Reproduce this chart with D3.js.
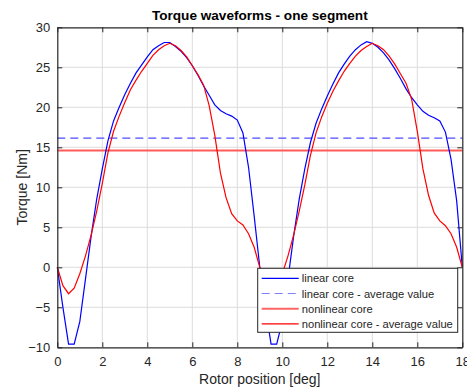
<!DOCTYPE html>
<html>
<head>
<meta charset="utf-8">
<script src="https://cdn.jsdelivr.net/npm/d3@7"></script>
<style>
  body { margin: 0; background: #fff; }
  svg { font-family: "Liberation Sans", Arial, sans-serif; }
</style>
</head>
<body>
<svg id="chart" width="467" height="390"></svg>
<script>
// rotor position [deg], 0.25 deg steps
var rotorPos = d3.range(0, 18.001, 0.25);

var linearCore = [
  0, -5.0, -9.6, -9.6, -6.8, -1.5, 3.8, 8.5, 12.3, 15.8, 18.3, 20.0, 21.6,
  23.0, 24.3, 25.3, 26.3, 27.2, 27.7, 28.1, 28.1, 27.6, 27.0, 26.2, 25.2,
  24.0, 22.7, 21.5, 20.3, 19.6, 19.2, 18.9, 18.4, 16.8, 12.5, 6.4,
  0, -5.0, -9.6, -9.6, -6.8, -1.5, 3.8, 8.5, 12.3, 15.6, 18.0, 19.8, 21.4,
  22.9, 24.3, 25.4, 26.4, 27.2, 27.8, 28.2, 28.0, 27.5, 26.8, 25.9, 24.8,
  23.6, 22.3, 21.2, 20.3, 19.5, 19.0, 18.7, 18.3, 16.9, 13.5, 8.3, 0
];

var nonlinearCore = [
  0, -2.3, -3.3, -2.6, -0.8, 1.4, 4.0, 7.0, 10.5, 14.3, 17.0, 18.9, 20.6,
  22.2, 23.4, 24.5, 25.5, 26.5, 27.2, 27.7, 28.0, 27.7, 27.1, 26.3, 25.2,
  24.1, 22.8, 20.2, 16.5, 11.8, 8.7, 6.7, 5.8, 5.3, 4.2, 2.5,
  0, -2.3, -3.3, -2.6, -0.8, 1.4, 4.0, 7.0, 10.3, 14.0, 16.8, 18.8, 20.5,
  22.0, 23.3, 24.5, 25.5, 26.4, 27.1, 27.6, 28.0, 27.7, 27.2, 26.4, 25.4,
  24.2, 23.0, 21.0, 17.0, 12.3, 9.0, 6.8, 5.8, 5.2, 4.2, 2.5, 0
];

var linearAvg = 16.15;
var nonlinearAvg = 14.6;

var xTicks = [0, 2, 4, 6, 8, 10, 12, 14, 16, 18];
var yTicks = [-10, -5, 0, 5, 10, 15, 20, 25, 30];

var legendLabels = [
  'linear core',
  'linear core - average value',
  'nonlinear core',
  'nonlinear core - average value'
];

(function () {
  'use strict';

  var svg = d3.select('#chart');
  var margin = { left: 57.3, top: 27.3, width: 405, height: 320 };
  var ink = '#262626';

  var x = d3.scaleLinear().domain([0, 18]).range([margin.left, margin.left + margin.width]);
  var y = d3.scaleLinear().domain([-10, 30]).range([margin.top + margin.height, margin.top]);

  svg.append('rect')
    .attr('x', margin.left).attr('y', margin.top)
    .attr('width', margin.width).attr('height', margin.height)
    .attr('fill', '#fff');

  // grid
  var grid = svg.append('g').attr('class', 'grid');
  grid.selectAll('line.gx').data(xTicks.slice(1, -1)).enter().append('line')
    .attr('x1', x).attr('x2', x)
    .attr('y1', y(-10)).attr('y2', y(30))
    .attr('stroke', '#dcdcdc').attr('stroke-width', 1);
  grid.selectAll('line.gy').data(yTicks.slice(1, -1)).enter().append('line')
    .attr('x1', x(0)).attr('x2', x(18))
    .attr('y1', y).attr('y2', y)
    .attr('stroke', '#dcdcdc').attr('stroke-width', 1);

  var plot = svg.append('g');
  var line = d3.line()
    .x(function (d, i) { return x(rotorPos[i]); })
    .y(function (d) { return y(d); });

  // averages
  plot.append('line')
    .attr('x1', x(0)).attr('x2', x(18))
    .attr('y1', y(linearAvg)).attr('y2', y(linearAvg))
    .attr('stroke', '#4d4dff').attr('stroke-width', 1.2)
    .attr('stroke-dasharray', '8,5');
  plot.append('line')
    .attr('x1', x(0)).attr('x2', x(18))
    .attr('y1', y(nonlinearAvg)).attr('y2', y(nonlinearAvg))
    .attr('stroke', '#ff5a5a').attr('stroke-width', 2);

  plot.append('path').datum(linearCore)
    .attr('d', line).attr('fill', 'none')
    .attr('stroke', '#0000ff').attr('stroke-width', 1.2);
  plot.append('path').datum(nonlinearCore)
    .attr('d', line).attr('fill', 'none')
    .attr('stroke', '#ff0000').attr('stroke-width', 1.2);

  // axes (box with inward ticks)
  var bottom = d3.axisBottom(x).tickValues(xTicks).tickSizeInner(-5).tickSizeOuter(0).tickPadding(9);
  var top = d3.axisTop(x).tickValues(xTicks).tickSizeInner(-5).tickSizeOuter(0).tickFormat('');
  var left = d3.axisLeft(y).tickValues(yTicks).tickSizeInner(-5).tickSizeOuter(0).tickPadding(7);
  var right = d3.axisRight(y).tickValues(yTicks).tickSizeInner(-5).tickSizeOuter(0).tickFormat('');

  var gb = svg.append('g').attr('transform', 'translate(0,' + y(-10) + ')').call(bottom);
  var gt = svg.append('g').attr('transform', 'translate(0,' + y(30) + ')').call(top);
  var gl = svg.append('g').attr('transform', 'translate(' + x(0) + ',0)').call(left);
  var gr = svg.append('g').attr('transform', 'translate(' + x(18) + ',0)').call(right);

  [gb, gt, gl, gr].forEach(function (g) {
    g.select('.domain').attr('stroke', ink).attr('stroke-width', 1.2);
    g.selectAll('.tick line').attr('stroke', ink);
    g.selectAll('.tick text').attr('fill', ink).style('font-size', '13px')
      .style('font-family', '"Liberation Sans", Arial, sans-serif');
  });

  // labels
  svg.append('text')
    .attr('x', x(9)).attr('y', 20)
    .attr('text-anchor', 'middle')
    .style('font-size', '13.6px').style('font-weight', 'bold')
    .attr('fill', '#000')
    .text('Torque waveforms - one segment');

  svg.append('text')
    .attr('x', x(9)).attr('y', 384)
    .attr('text-anchor', 'middle')
    .style('font-size', '14px')
    .attr('fill', ink)
    .text('Rotor position [deg]');

  svg.append('text')
    .attr('transform', 'translate(27,' + y(10) + ') rotate(-90)')
    .attr('text-anchor', 'middle')
    .style('font-size', '14px')
    .attr('fill', ink)
    .text('Torque [Nm]');

  // legend
  var legend = svg.append('g').attr('transform', 'translate(257.7,268.3)');
  legend.append('rect')
    .attr('width', 200).attr('height', 64)
    .attr('fill', '#fff').attr('stroke', ink).attr('stroke-width', 1);

  var legendStyles = [
    { color: '#0000ff', width: 1.2, dash: null },
    { color: '#7f7fff', width: 1.2, dash: '8,5' },
    { color: '#ff6464', width: 2, dash: null },
    { color: '#ff0000', width: 1.2, dash: null }
  ];

  var entry = legend.selectAll('g.entry').data(legendLabels).enter().append('g')
    .attr('transform', function (d, i) { return 'translate(0,' + (10 + i * 15.2) + ')'; });
  entry.append('line')
    .attr('x1', 4).attr('x2', 41)
    .attr('stroke', function (d, i) { return legendStyles[i].color; })
    .attr('stroke-width', function (d, i) { return legendStyles[i].width; })
    .attr('stroke-dasharray', function (d, i) { return legendStyles[i].dash; });
  entry.append('text')
    .attr('x', 44).attr('y', 4)
    .style('font-size', '11.2px')
    .attr('fill', ink)
    .text(function (d) { return d; });
})();
</script>
</body>
</html>
